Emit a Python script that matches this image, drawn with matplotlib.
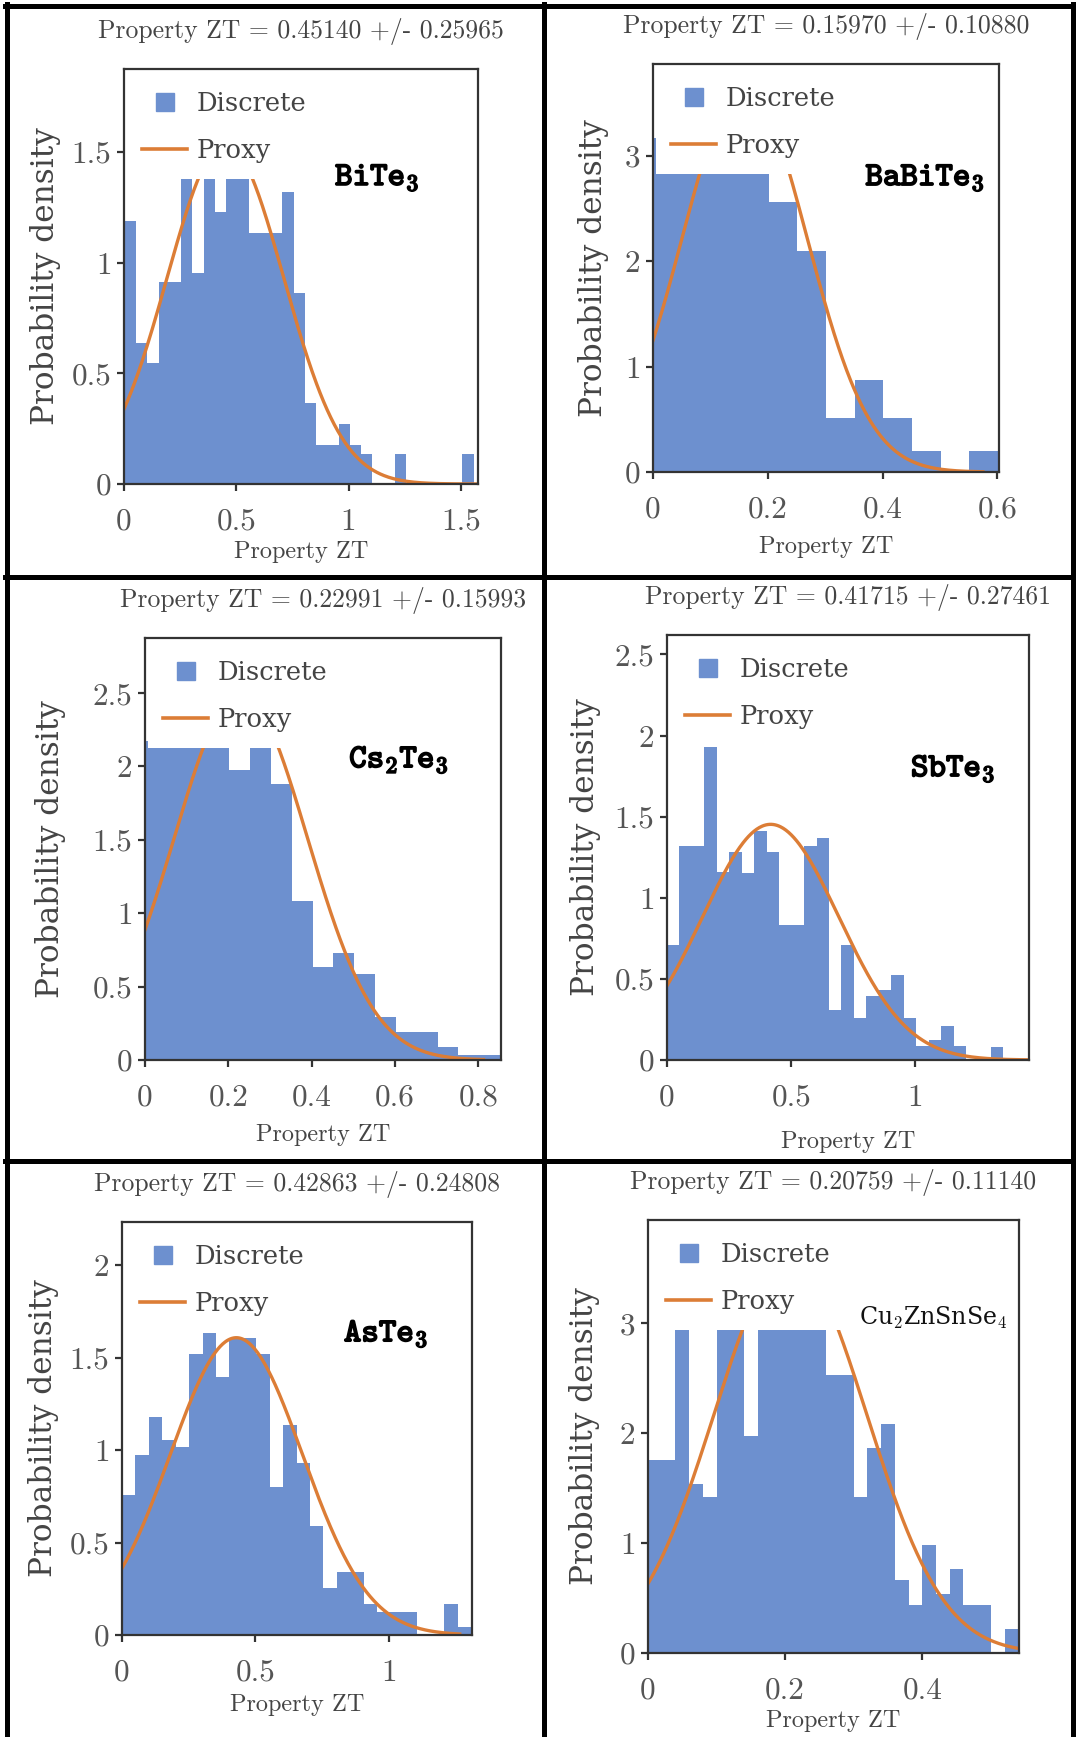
import numpy as np
import matplotlib
matplotlib.use('Agg')
import matplotlib.pyplot as plt
from matplotlib.lines import Line2D
import matplotlib.patheffects as pe

plt.rcParams['mathtext.fontset'] = 'cm'
plt.rcParams['axes.formatter.use_mathtext'] = True

# compounds and fitted normal parameters (from panel titles)
materials = [r'$\mathtt{BiTe}_3$', r'$\mathtt{BaBiTe}_3$', r'$\mathtt{Cs}_2\mathtt{Te}_3$',
             r'$\mathtt{SbTe}_3$', r'$\mathtt{AsTe}_3$', 'Cu$_2$ZnSnSe$_4$']
means = [0.45140, 0.15970, 0.22991, 0.41715, 0.42863, 0.20759]
stds = [0.25965, 0.10880, 0.15993, 0.27461, 0.24808, 0.11140]

# histogram densities, with the data range of the bins
bite3_range = (0.004, 1.556)
bite3_dens = [1.186, 0.637, 0.547, 0.912, 0.912, 1.46, 0.955, 1.46, 1.23, 1.55, 1.46,
              1.136, 1.136, 1.136, 1.32, 0.861, 0.366, 0.177, 0.177, 0.272, 0.177, 0.134,
              0, 0, 0.134, 0, 0, 0, 0, 0, 0.134]
babite3_range = (0.002, 0.601)
babite3_dens = [3.17, 3.4, 3.3, 3.0, 2.56, 2.10, 0.515, 0.869, 0.515, 0.2, 0, 0.2]
cs2te3_range = (0.002, 0.852)
cs2te3_dens = [2.175, 2.3, 2.4, 2.3, 1.977, 2.2, 1.88, 1.086, 0.632, 0.732, 0.586,
               0.291, 0.189, 0.189, 0.091, 0.034, 0.034]
sbte3_range = (0.0, 1.354)
sbte3_dens = [0.71, 1.32, 1.32, 1.928, 1.156, 1.28, 1.152, 1.414, 1.28, 0.833, 0.833,
              1.32, 1.368, 0.309, 0.71, 0.257, 0.395, 0.432, 0.525, 0.257, 0.086, 0.123,
              0.212, 0.086, 0, 0, 0.082]
aste3_range = (0.0, 1.309)
aste3_dens = [0.757, 0.973, 1.177, 1.054, 1.018, 1.519, 1.636, 1.396, 1.607, 1.607, 1.519,
              0.802, 1.135, 0.928, 0.589, 0.256, 0.339, 0.339, 0.166, 0.126, 0.126, 0.126,
              0, 0, 0.166, 0.045]
czts_range = (0.0, 0.540)
czts_dens = [1.752, 1.752, 3.0, 1.54, 1.424, 3.0, 3.1, 1.976, 3.3, 3.6, 3.4, 3.5, 3.2,
             2.53, 2.53, 1.424, 1.864, 2.08, 0.667, 0.433, 0.979, 0.539, 0.767, 0.433,
             0.433, 0, 0.221]

hist_ranges = [bite3_range, babite3_range, cs2te3_range, sbte3_range, aste3_range, czts_range]
hist_dens = [bite3_dens, babite3_dens, cs2te3_dens, sbte3_dens, aste3_dens, czts_dens]
curve_end = [1.576, 0.575, 0.812, 1.457, 1.266, 0.541]

xlims = [1.576, 0.603, 0.854, 1.457, 1.312, 0.541]
ylims = [1.875, 3.87, 2.875, 2.62, 2.234, 3.94]
xticks = [[0, 0.5, 1, 1.5], [0, 0.2, 0.4, 0.6], [0, 0.2, 0.4, 0.6, 0.8],
          [0, 0.5, 1], [0, 0.5, 1], [0, 0.2, 0.4]]
yticks = [[0, 0.5, 1, 1.5], [0, 1, 2, 3], [0, 0.5, 1, 1.5, 2, 2.5],
          [0, 0.5, 1, 1.5, 2, 2.5], [0, 0.5, 1, 1.5, 2], [0, 1, 2, 3]]

# layout: axes boxes in pixels (left, top, right, bottom) and label spots
W, H = 1076, 1737
boxes = [(124, 69, 478, 484), (653, 64, 999, 472), (145, 638, 501, 1060),
         (667, 635, 1029, 1060), (122, 1222, 472, 1635), (648, 1220, 1019, 1653)]
label_pos = [(0.715, 0.74), (0.786, 0.723), (0.713, 0.713), (0.79, 0.687),
             (0.754, 0.731), (0.768, 0.774)]
xlabel_pads = [3.5, 9, 9, 14, 5, 4]
ylabel_pads = [7.5, 11.5, 19.5, 10, 7.5, 14]

blue = '#6d90cf'
orange = '#dc7d36'
gray = '#444444'

fig = plt.figure(figsize=(W / 100, H / 100), dpi=100)

for i in range(6):
    l, t, r, b = boxes[i]
    ax = fig.add_axes([l / W, 1 - b / H, (r - l) / W, (b - t) / H])

    lo, hi = hist_ranges[i]
    dens = np.array(hist_dens[i])
    edges = np.linspace(lo, hi, len(dens) + 1)
    ax.stairs(dens, edges, fill=True, color=blue, lw=0)

    x = np.linspace(0, curve_end[i], 400)
    pdf = np.exp(-(x - means[i]) ** 2 / (2 * stds[i] ** 2)) / (stds[i] * np.sqrt(2 * np.pi))
    ax.plot(x, pdf, color=orange, lw=2.4)

    ax.set_xlim(0, xlims[i])
    ax.set_ylim(0, ylims[i])
    ax.set_xticks(xticks[i])
    ax.set_yticks(yticks[i])
    ax.set_xticklabels(['%g' % v for v in xticks[i]])
    ax.set_yticklabels(['%g' % v for v in yticks[i]])
    for lab in ax.get_xticklabels() + ax.get_yticklabels():
        lab.set_family('cmr10')
    ax.tick_params(direction='out', length=5, width=1.6, colors='#333333',
                   labelcolor='#555555', labelsize=22.5)
    ax.tick_params(axis='x', pad=12)
    ax.tick_params(axis='y', pad=4)
    for sp in ax.spines.values():
        sp.set_color('#333333')
        sp.set_linewidth(1.6)

    ax.set_title('Property ZT = %.5f +/- %.5f' % (means[i], stds[i]),
                 family='cmr10', fontsize=18.5, color=gray, pad=22)
    ax.set_xlabel('Property ZT', family='cmr10', fontsize=17.5, color=gray,
                  labelpad=xlabel_pads[i])
    ax.set_ylabel('Probability density', family='DejaVu Serif', fontsize=22.5,
                  color=gray, labelpad=ylabel_pads[i])

    w_px, h_px = r - l, b - t
    handles = [Line2D([], [], marker='s', ls='none', color=blue, markersize=13),
               Line2D([], [], color=orange, lw=2.6)]
    ax.legend(handles, ['Discrete', 'Proxy'], loc='upper left',
              bbox_to_anchor=(3 / w_px, 1 - 7 / h_px), borderaxespad=0,
              frameon=True, facecolor='white', edgecolor='none', framealpha=1,
              fancybox=False, prop=dict(family='DejaVu Serif', size=18.5),
              labelcolor=gray, handlelength=1.75, handletextpad=0.35,
              borderpad=0.6, labelspacing=0.85)

    px, py = label_pos[i]
    if i < 5:
        ax.text(px, py, materials[i], transform=ax.transAxes, ha='center', va='center',
                fontsize=24, color='black', zorder=6,
                path_effects=[pe.withStroke(linewidth=1.2, foreground='black')])
    else:
        ax.text(px, py, materials[i], transform=ax.transAxes, ha='center', va='center',
                family='DejaVu Serif', fontsize=17, color='#111111', zorder=6)

# table grid lines around the panels
lw = 3.6
for xv in [7, 544, 1073]:
    fig.add_artist(Line2D([xv / W, xv / W], [0, 1 - 4 / H], color='black', lw=lw))
for yv in [5.5, 577, 1161]:
    fig.add_artist(Line2D([5 / W, 1075 / W], [1 - yv / H, 1 - yv / H], color='black', lw=lw))

fig.savefig('out.png', dpi=100)
